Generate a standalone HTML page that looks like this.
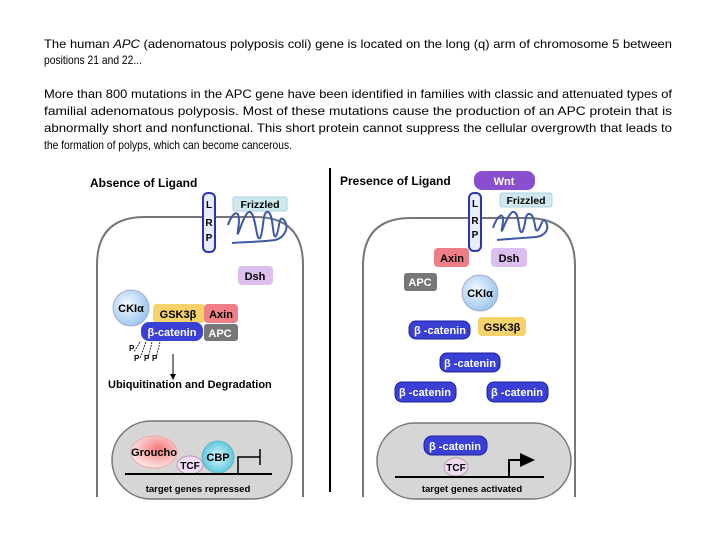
<!DOCTYPE html>
<html><head><meta charset="utf-8"><style>
html,body{margin:0;padding:0;background:#fff;}
svg{display:block;}
.p{font-family:"Liberation Sans Narrow","Liberation Sans",sans-serif;font-size:12px;fill:#000;}
.b{font-family:"Liberation Sans",sans-serif;font-weight:bold;}
</style></head><body>
<svg width="720" height="540" viewBox="0 0 720 540" xmlns="http://www.w3.org/2000/svg">
<defs>
<radialGradient id="ck" cx="40%" cy="40%" r="60%"><stop offset="0" stop-color="#f4f9ff"/><stop offset="1" stop-color="#9ec8ee"/></radialGradient>
<radialGradient id="gr" cx="60%" cy="40%" r="60%"><stop offset="0" stop-color="#f47a7a"/><stop offset="1" stop-color="#fbe4e4"/></radialGradient>
<radialGradient id="cbp" cx="50%" cy="50%" r="55%"><stop offset="0" stop-color="#e6f6fb"/><stop offset="1" stop-color="#4bc4dc"/></radialGradient>
</defs>
<g class="p">
<text x="44" y="48" textLength="628" lengthAdjust="spacingAndGlyphs">The human <tspan font-style="italic">APC</tspan> (adenomatous polyposis coli) gene is located on the long (q) arm of chromosome 5 between</text>
<text x="44" y="64" textLength="98" lengthAdjust="spacingAndGlyphs">positions 21 and 22...</text>
<text x="44" y="98" textLength="628" lengthAdjust="spacingAndGlyphs">More than 800 mutations in the APC gene have been identified in families with classic and attenuated types of</text>
<text x="44" y="115" textLength="628" lengthAdjust="spacingAndGlyphs">familial adenomatous polyposis. Most of these mutations cause the production of an APC protein that is</text>
<text x="44" y="132" textLength="628" lengthAdjust="spacingAndGlyphs">abnormally short and nonfunctional. This short protein cannot suppress the cellular overgrowth that leads to</text>
<text x="44" y="149" textLength="248" lengthAdjust="spacingAndGlyphs">the formation of polyps, which can become cancerous.</text>
</g>
<line x1="330" y1="168" x2="330" y2="492" stroke="#000" stroke-width="2"/>
<path d="M97,497 V265 Q97,217 145,217 H255 Q303,217 303,265 V497" fill="#fff" stroke="#777" stroke-width="2"/>
<rect x="112" y="421" width="180" height="78" rx="39" fill="#d6d6d6" stroke="#777" stroke-width="1.5"/>
<path d="M363,497 V266 Q363,218 411,218 H527 Q575,218 575,266 V497" fill="#fff" stroke="#777" stroke-width="2"/>
<rect x="377" y="423" width="194" height="76" rx="38" fill="#d6d6d6" stroke="#777" stroke-width="1.5"/>
<g class="b" font-size="11">
<text x="90" y="187" font-size="12">Absence of Ligand</text>
<rect x="233" y="197" width="54" height="14" rx="2" fill="#cfe9ef" stroke="#a8d4de"/>
<text x="260" y="208" text-anchor="middle" font-size="10.5">Frizzled</text>
<path d="M228,225 C232,212 242,205 238,230 C236,245 244,210 250,212 C256,214 256,242 260,238 C264,232 262,210 268,212 C274,214 272,240 276,236 C280,230 278,214 284,220 C290,228 284,238 275,240 C260,242 245,242 232,243" fill="none" stroke="#3d5aa8" stroke-width="2"/>
<rect x="203" y="193" width="12" height="59" rx="5" fill="#e8ecff" stroke="#2a36b0" stroke-width="2"/>
<text x="209" y="208" text-anchor="middle" font-size="10">L</text><text x="209" y="226" text-anchor="middle" font-size="10">R</text><text x="209" y="241" text-anchor="middle" font-size="10">P</text>
<rect x="238" y="266" width="35" height="19" rx="4" fill="#dcbef0"/>
<text x="255" y="280" text-anchor="middle">Dsh</text>
<rect x="153" y="304" width="52" height="19" rx="4" fill="#f5d36a"/>
<text x="178" y="318" text-anchor="middle">GSK3β</text>
<rect x="204" y="304" width="34" height="19" rx="4" fill="#ee7f86"/>
<text x="221" y="318" text-anchor="middle">Axin</text>
<circle cx="131" cy="308" r="18" fill="url(#ck)" stroke="#aac"/>
<text x="131" y="312" text-anchor="middle">CKIα</text>
<rect x="204" y="324" width="34" height="17" rx="3" fill="#777"/>
<text x="220" y="337" text-anchor="middle" fill="#fff">APC</text>
<rect x="141" y="322" width="62" height="19" rx="8" fill="#3a3fd6"/>
<text x="172" y="336" text-anchor="middle" fill="#fff">β-catenin</text>
<g stroke="#000" stroke-width="0.8" stroke-dasharray="2,1"><line x1="140" y1="342" x2="134" y2="352"/><line x1="146" y1="342" x2="140" y2="358"/><line x1="152" y1="342" x2="148" y2="358"/><line x1="160" y1="342" x2="156" y2="358"/></g>
<g font-size="8"><text x="129" y="351">P</text><text x="134" y="361">P</text><text x="144" y="361">P</text><text x="152" y="361">P</text></g>
<line x1="173" y1="354" x2="173" y2="375" stroke="#000"/><path d="M170,374 L176,374 L173,380Z"/>
<text x="108" y="388">Ubiquitination and Degradation</text>
<ellipse cx="154" cy="452" rx="23" ry="16" fill="url(#gr)" stroke="#eaa"/>
<text x="154" y="456" text-anchor="middle">Groucho</text>
<ellipse cx="190" cy="465" rx="13" ry="9" fill="#eedcf5" stroke="#b9a"/>
<text x="190" y="469" text-anchor="middle" font-size="10">TCF</text>
<circle cx="218" cy="457" r="16" fill="url(#cbp)" stroke="#6bb"/>
<text x="218" y="461" text-anchor="middle">CBP</text>
<line x1="125" y1="474" x2="272" y2="474" stroke="#000" stroke-width="2"/>
<path d="M238,474 V457 H260 M260,449 V465" fill="none" stroke="#000" stroke-width="1.5"/>
<text x="198" y="492" text-anchor="middle" font-size="9.5">target genes repressed</text>
<text x="340" y="185" font-size="12">Presence of Ligand</text>
<rect x="474" y="171" width="61" height="19" rx="8" fill="#8a4fcf"/>
<text x="504" y="185" text-anchor="middle" fill="#fff">Wnt</text>
<rect x="500" y="193" width="52" height="14" rx="2" fill="#cfe9ef" stroke="#a8d4de"/>
<text x="526" y="204" text-anchor="middle" font-size="10.5">Frizzled</text>
<path d="M493,228 C497,215 506,208 502,228 C500,240 508,210 514,212 C520,214 518,234 522,232 C526,228 524,212 530,214 C536,216 534,234 538,230 C542,226 542,216 546,222 C550,230 544,236 536,237 C522,238 508,239 497,240" fill="none" stroke="#3d5aa8" stroke-width="2"/>
<rect x="469" y="193" width="12" height="58" rx="5" fill="#e8ecff" stroke="#2a36b0" stroke-width="2"/>
<text x="475" y="207" text-anchor="middle" font-size="10">L</text><text x="475" y="224" text-anchor="middle" font-size="10">R</text><text x="475" y="238" text-anchor="middle" font-size="10">P</text>
<rect x="434" y="248" width="35" height="19" rx="4" fill="#ee7f86"/>
<text x="452" y="262" text-anchor="middle">Axin</text>
<rect x="491" y="248" width="36" height="19" rx="4" fill="#dcbef0"/>
<text x="509" y="262" text-anchor="middle">Dsh</text>
<rect x="404" y="273" width="33" height="18" rx="3" fill="#777"/>
<text x="420" y="286" text-anchor="middle" fill="#fff">APC</text>
<circle cx="480" cy="293" r="18" fill="url(#ck)" stroke="#aac"/>
<text x="480" y="297" text-anchor="middle">CKIα</text>
<rect x="478" y="317" width="48" height="19" rx="4" fill="#f5d36a"/>
<text x="502" y="331" text-anchor="middle">GSK3β</text>
<g fill="#3a3fd6" stroke="#1c20a0"><rect x="409" y="321" width="61" height="18" rx="7"/><rect x="440" y="353" width="60" height="19" rx="7"/><rect x="395" y="382" width="61" height="20" rx="7"/><rect x="487" y="382" width="61" height="20" rx="7"/><rect x="424" y="436" width="63" height="19" rx="8"/></g>
<g fill="#fff" text-anchor="middle"><text x="440" y="334">β -catenin</text><text x="470" y="367">β -catenin</text><text x="425" y="396">β -catenin</text><text x="517" y="396">β -catenin</text><text x="455" y="450">β -catenin</text></g>
<ellipse cx="456" cy="467" rx="12" ry="9" fill="#eedcf5" stroke="#b9a"/>
<text x="456" y="471" text-anchor="middle" font-size="10">TCF</text>
<line x1="395" y1="477" x2="544" y2="477" stroke="#000" stroke-width="2"/>
<path d="M509,477 V460 H521" fill="none" stroke="#000" stroke-width="2"/>
<path d="M520,453 L535,460 L520,467Z"/>
<text x="472" y="492" text-anchor="middle" font-size="9.5">target genes activated</text>
</g>
</svg>
</body></html>
